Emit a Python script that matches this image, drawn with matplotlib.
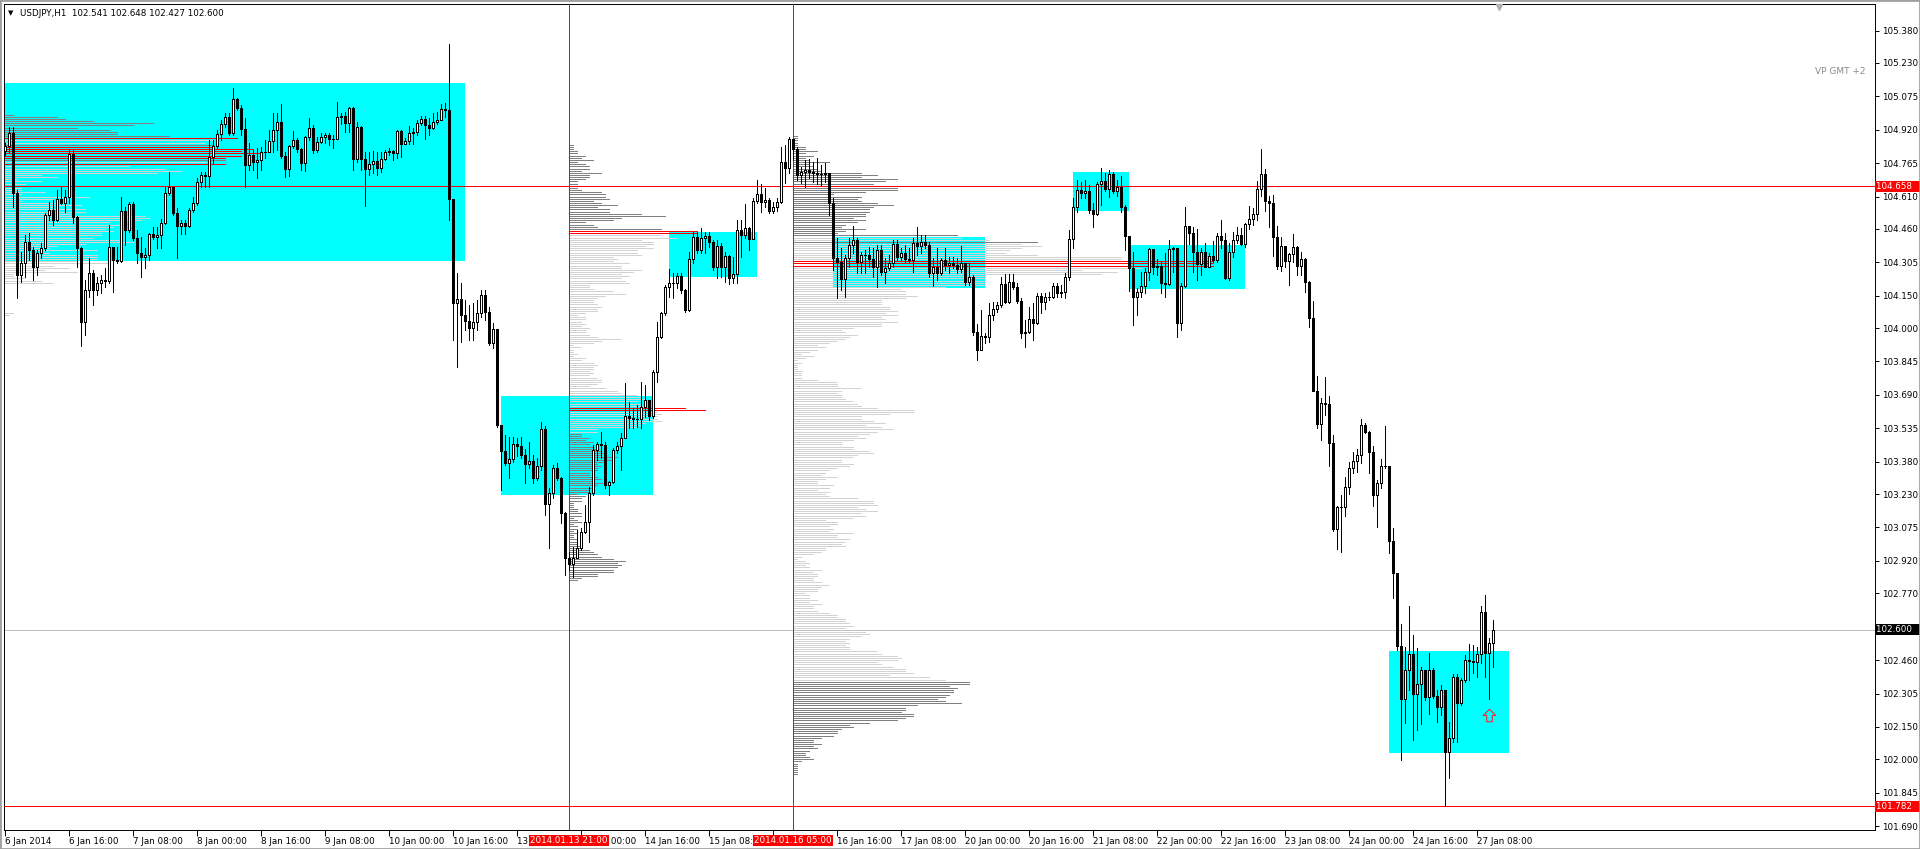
import matplotlib
matplotlib.use("Agg")
import matplotlib.pyplot as plt
import matplotlib.transforms as mtransforms
from matplotlib.path import Path
from matplotlib.patches import Rectangle

# USDJPY H1, one bar per hour, 6 Jan 2014 00:00 .. 27 Jan 2014 12:00 (GMT+2)
first_open = 104.822
closes = [
    104.845, 104.905, 104.627, 104.247, 104.302, 104.400, 104.363, 104.284, 104.349, 104.372,
    104.525, 104.548, 104.502, 104.599, 104.580, 104.609, 104.807, 104.516, 104.372, 104.029,
    104.177, 104.256, 104.177, 104.209, 104.223, 104.218, 104.377, 104.316, 104.311, 104.543,
    104.455, 104.575, 104.418, 104.349, 104.331, 104.340, 104.436, 104.423, 104.432, 104.488,
    104.627, 104.655, 104.534, 104.474, 104.488, 104.474, 104.548, 104.580, 104.678, 104.711,
    104.706, 104.794, 104.845, 104.900, 104.946, 104.980, 104.905, 105.063, 105.021, 104.923,
    104.757, 104.803, 104.771, 104.780, 104.817, 104.817, 104.868, 104.919, 104.956, 104.798,
    104.738, 104.845, 104.873, 104.831, 104.766, 104.887, 104.928, 104.826, 104.864, 104.887,
    104.896, 104.877, 104.877, 104.980, 104.984, 104.951, 105.021, 104.784, 104.933, 104.784,
    104.738, 104.761, 104.775, 104.743, 104.784, 104.817, 104.822, 104.812, 104.914, 104.854,
    104.868, 104.905, 104.910, 104.951, 104.970, 104.942, 104.928, 104.956, 104.965, 105.016,
    105.012, 104.599, 104.117, 104.135, 104.061, 104.033, 104.001, 104.029, 104.070, 104.154,
    104.075, 103.931, 103.996, 103.551, 103.430, 103.374, 103.393, 103.462, 103.453, 103.412,
    103.370, 103.384, 103.305, 103.361, 103.532, 103.184, 103.235, 103.351, 103.305, 103.143,
    102.934, 102.906, 102.934, 102.980, 103.055, 103.101, 103.235, 103.435, 103.462, 103.458,
    103.273, 103.287, 103.435, 103.453, 103.490, 103.592, 103.583, 103.578, 103.580, 103.634,
    103.667, 103.592, 103.796, 103.959, 104.070, 104.191, 104.209, 104.207, 104.242, 104.177,
    104.084, 104.321, 104.423, 104.363, 104.418, 104.427, 104.400, 104.284, 104.381, 104.284,
    104.335, 104.233, 104.251, 104.455, 104.432, 104.465, 104.414, 104.590, 104.622, 104.585,
    104.594, 104.543, 104.562, 104.585, 104.771, 104.743, 104.877, 104.831, 104.711, 104.724,
    104.734, 104.724, 104.720, 104.715, 104.713, 104.720, 104.580, 104.325, 104.307, 104.228,
    104.325, 104.386, 104.409, 104.307, 104.340, 104.338, 104.321, 104.284, 104.363, 104.260,
    104.279, 104.302, 104.390, 104.330, 104.349, 104.321, 104.316, 104.395, 104.381, 104.400,
    104.386, 104.256, 104.284, 104.256, 104.316, 104.293, 104.302, 104.293, 104.274, 104.302,
    104.214, 104.237, 103.982, 103.899, 103.964, 103.959, 104.061, 104.089, 104.108, 104.205,
    104.121, 104.214, 104.191, 104.126, 103.978, 103.982, 104.042, 104.024, 104.149, 104.121,
    104.145, 104.143, 104.195, 104.163, 104.168, 104.237, 104.413, 104.562, 104.641, 104.627,
    104.636, 104.548, 104.530, 104.669, 104.683, 104.645, 104.715, 104.636, 104.655, 104.562,
    104.427, 104.279, 104.145, 104.168, 104.195, 104.260, 104.367, 104.284, 104.288, 104.209,
    104.205, 104.367, 104.372, 104.024, 104.195, 104.474, 104.441, 104.353, 104.298, 104.353,
    104.284, 104.335, 104.316, 104.427, 104.409, 104.233, 104.353, 104.409, 104.432, 104.390,
    104.483, 104.506, 104.530, 104.645, 104.715, 104.590, 104.580, 104.423, 104.288, 104.381,
    104.311, 104.344, 104.377, 104.288, 104.321, 104.214, 104.047, 103.709, 103.556, 103.653,
    103.650, 103.467, 103.069, 103.170, 103.168, 103.263, 103.351, 103.384, 103.412, 103.551,
    103.518, 103.425, 103.226, 103.282, 103.361, 103.358, 103.013, 102.864, 102.526, 102.280,
    102.415, 102.489, 102.303, 102.350, 102.415, 102.289, 102.415, 102.294, 102.243, 102.322,
    102.034, 102.099, 102.382, 102.261, 102.368, 102.461, 102.456, 102.452, 102.489, 102.684,
    102.493, 102.541, 102.600,
]
highs = [
    104.859, 104.933, 104.933, 104.641, 104.353, 104.432, 104.441, 104.377, 104.363, 104.395,
    104.534, 104.585, 104.594, 104.641, 104.655, 104.641, 104.831, 104.826, 104.520, 104.377,
    104.223, 104.325, 104.270, 104.237, 104.247, 104.279, 104.479, 104.377, 104.377, 104.609,
    104.562, 104.585, 104.585, 104.455, 104.423, 104.372, 104.441, 104.469, 104.469, 104.506,
    104.655, 104.725, 104.655, 104.557, 104.502, 104.502, 104.557, 104.609, 104.697, 104.725,
    104.725, 104.873, 104.873, 104.919, 104.965, 104.998, 104.998, 105.114, 105.067, 105.035,
    104.975, 104.859, 104.826, 104.836, 104.840, 104.873, 104.919, 104.998, 104.998, 105.040,
    104.817, 104.850, 104.914, 104.882, 104.836, 104.891, 104.975, 104.942, 104.887, 104.905,
    104.905, 104.905, 104.896, 105.049, 104.998, 105.003, 105.026, 105.026, 104.956, 104.938,
    104.817, 104.817, 104.822, 104.817, 104.817, 104.826, 104.836, 104.826, 104.919, 104.919,
    104.882, 104.938, 104.928, 104.965, 104.984, 104.984, 104.975, 104.998, 105.003, 105.040,
    105.044, 105.318, 104.599, 104.256, 104.209, 104.131, 104.107, 104.117, 104.131, 104.177,
    104.177, 104.098, 104.024, 103.996, 103.551, 103.505, 103.495, 103.495, 103.490, 103.495,
    103.439, 103.472, 103.412, 103.398, 103.565, 103.546, 103.259, 103.365, 103.374, 103.310,
    103.147, 102.962, 102.985, 103.064, 103.073, 103.180, 103.263, 103.458, 103.472, 103.518,
    103.472, 103.291, 103.444, 103.472, 103.514, 103.746, 103.657, 103.630, 103.643, 103.750,
    103.736, 103.667, 103.806, 104.029, 104.075, 104.200, 104.274, 104.256, 104.256, 104.256,
    104.182, 104.353, 104.446, 104.446, 104.465, 104.446, 104.446, 104.409, 104.409, 104.395,
    104.353, 104.340, 104.330, 104.502, 104.502, 104.576, 104.469, 104.604, 104.687, 104.669,
    104.650, 104.604, 104.585, 104.604, 104.840, 104.850, 104.887, 104.877, 104.840, 104.747,
    104.780, 104.784, 104.771, 104.789, 104.757, 104.766, 104.720, 104.604, 104.418, 104.372,
    104.340, 104.418, 104.474, 104.418, 104.353, 104.363, 104.377, 104.372, 104.386, 104.386,
    104.325, 104.340, 104.409, 104.409, 104.372, 104.386, 104.372, 104.418, 104.469, 104.432,
    104.432, 104.400, 104.325, 104.372, 104.325, 104.372, 104.330, 104.330, 104.325, 104.381,
    104.302, 104.302, 104.247, 104.019, 104.084, 103.978, 104.117, 104.121, 104.121, 104.237,
    104.251, 104.251, 104.251, 104.209, 104.140, 104.038, 104.098, 104.117, 104.163, 104.163,
    104.163, 104.168, 104.209, 104.209, 104.200, 104.256, 104.455, 104.604, 104.687, 104.678,
    104.687, 104.664, 104.580, 104.678, 104.743, 104.720, 104.734, 104.725, 104.687, 104.706,
    104.571, 104.427, 104.353, 104.186, 104.260, 104.279, 104.372, 104.363, 104.321, 104.311,
    104.349, 104.409, 104.377, 104.372, 104.209, 104.562, 104.474, 104.469, 104.460, 104.372,
    104.395, 104.349, 104.404, 104.441, 104.502, 104.441, 104.395, 104.446, 104.469, 104.465,
    104.488, 104.567, 104.557, 104.683, 104.831, 104.738, 104.613, 104.618, 104.474, 104.423,
    104.381, 104.349, 104.437, 104.381, 104.353, 104.325, 104.219, 104.126, 103.778, 103.676,
    103.773, 103.685, 103.504, 103.175, 103.226, 103.310, 103.379, 103.426, 103.439, 103.579,
    103.560, 103.523, 103.453, 103.296, 103.393, 103.546, 103.361, 103.073, 102.864, 102.628,
    102.521, 102.711, 102.577, 102.517, 102.429, 102.410, 102.493, 102.424, 102.322, 102.345,
    102.211, 102.173, 102.396, 102.396, 102.378, 102.484, 102.535, 102.530, 102.521, 102.711,
    102.762, 102.563, 102.648,
]
lows = [
    104.803, 104.817, 104.562, 104.140, 104.214, 104.237, 104.316, 104.223, 104.247, 104.325,
    104.363, 104.502, 104.479, 104.497, 104.576, 104.539, 104.580, 104.488, 104.284, 103.917,
    103.968, 104.145, 104.107, 104.154, 104.163, 104.191, 104.209, 104.168, 104.302, 104.307,
    104.386, 104.446, 104.409, 104.302, 104.237, 104.279, 104.316, 104.413, 104.372, 104.372,
    104.483, 104.617, 104.525, 104.325, 104.437, 104.437, 104.469, 104.539, 104.571, 104.655,
    104.655, 104.655, 104.766, 104.836, 104.873, 104.933, 104.896, 104.896, 105.012, 104.896,
    104.655, 104.734, 104.734, 104.697, 104.734, 104.789, 104.817, 104.817, 104.826, 104.789,
    104.701, 104.706, 104.836, 104.817, 104.734, 104.729, 104.873, 104.812, 104.817, 104.859,
    104.859, 104.850, 104.836, 104.877, 104.947, 104.910, 104.910, 104.734, 104.771, 104.734,
    104.567, 104.711, 104.720, 104.711, 104.725, 104.780, 104.803, 104.780, 104.789, 104.794,
    104.854, 104.854, 104.854, 104.896, 104.942, 104.877, 104.896, 104.923, 104.947, 104.965,
    104.980, 104.502, 103.945, 103.820, 103.936, 103.992, 103.945, 103.945, 103.992, 104.052,
    104.038, 103.922, 103.908, 103.542, 103.249, 103.365, 103.305, 103.379, 103.407, 103.398,
    103.282, 103.351, 103.282, 103.296, 103.342, 103.133, 102.980, 103.212, 103.296, 103.096,
    102.855, 102.878, 102.846, 102.934, 102.971, 103.050, 103.008, 103.226, 103.388, 103.398,
    103.259, 103.226, 103.282, 103.421, 103.342, 103.490, 103.537, 103.537, 103.542, 103.537,
    103.588, 103.574, 103.583, 103.750, 103.955, 104.061, 104.145, 104.140, 104.186, 104.163,
    104.075, 104.080, 104.302, 104.349, 104.349, 104.349, 104.377, 104.270, 104.233, 104.237,
    104.214, 104.205, 104.209, 104.209, 104.330, 104.418, 104.363, 104.413, 104.580, 104.539,
    104.562, 104.534, 104.534, 104.543, 104.580, 104.673, 104.720, 104.780, 104.687, 104.673,
    104.655, 104.697, 104.678, 104.669, 104.664, 104.678, 104.525, 104.270, 104.140, 104.177,
    104.145, 104.284, 104.349, 104.256, 104.256, 104.256, 104.284, 104.237, 104.191, 104.247,
    104.209, 104.270, 104.284, 104.316, 104.316, 104.307, 104.307, 104.260, 104.340, 104.349,
    104.372, 104.237, 104.195, 104.223, 104.247, 104.270, 104.256, 104.279, 104.256, 104.260,
    104.200, 104.200, 103.968, 103.852, 103.899, 103.931, 103.936, 104.038, 104.075, 104.098,
    104.117, 104.117, 104.182, 104.117, 103.955, 103.913, 103.978, 103.945, 104.019, 104.070,
    104.089, 104.131, 104.140, 104.145, 104.145, 104.140, 104.223, 104.372, 104.539, 104.604,
    104.604, 104.534, 104.469, 104.525, 104.571, 104.636, 104.609, 104.627, 104.613, 104.539,
    104.363, 104.172, 104.015, 104.061, 104.145, 104.163, 104.223, 104.251, 104.247, 104.163,
    104.145, 104.200, 104.260, 103.959, 103.992, 104.191, 104.390, 104.260, 104.223, 104.247,
    104.284, 104.284, 104.307, 104.307, 104.372, 104.228, 104.223, 104.330, 104.395, 104.386,
    104.377, 104.460, 104.479, 104.502, 104.613, 104.543, 104.469, 104.335, 104.274, 104.265,
    104.284, 104.200, 104.307, 104.247, 104.247, 104.168, 104.006, 103.709, 103.537, 103.481,
    103.597, 103.360, 103.059, 102.976, 102.962, 103.129, 103.231, 103.328, 103.333, 103.374,
    103.514, 103.328, 103.175, 103.078, 103.259, 103.351, 102.957, 102.749, 102.507, 101.997,
    102.169, 102.322, 102.090, 102.136, 102.164, 102.275, 102.211, 102.285, 102.173, 102.206,
    101.782, 101.914, 102.081, 102.081, 102.252, 102.359, 102.368, 102.401, 102.382, 102.447,
    102.382, 102.280, 102.427,
]
# H1 bars have no gaps: each bar opens at the previous close
opens = [first_open] + closes[:-1]

tick_bars = [0, 16, 32, 48, 64, 80, 96, 112, 128, 144, 160, 176, 192, 208, 224,
             240, 256, 272, 288, 304, 320, 336, 352, 368]
tick_labels = ["6 Jan 2014", "6 Jan 16:00", "7 Jan 08:00", "8 Jan 00:00", "8 Jan 16:00",
               "9 Jan 08:00", "10 Jan 00:00", "10 Jan 16:00", "13 Jan 08:00", "14 Jan 00:00",
               "14 Jan 16:00", "15 Jan 08:00", "16 Jan 00:00", "16 Jan 16:00", "17 Jan 08:00",
               "20 Jan 00:00", "20 Jan 16:00", "21 Jan 08:00", "22 Jan 00:00", "22 Jan 16:00",
               "23 Jan 08:00", "24 Jan 00:00", "24 Jan 16:00", "27 Jan 08:00"]
price_ticks = [105.380, 105.230, 105.075, 104.920, 104.765, 104.610, 104.460, 104.305,
               104.150, 104.000, 103.845, 103.690, 103.535, 103.380, 103.230, 103.075,
               102.920, 102.770, 102.460, 102.305, 102.150, 102.000, 101.845, 101.690]

# zones (cyan rectangles): start bar, end bar, top price, bottom price
zone_start = [0, 124, 166, 207, 267, 281, 346]
zone_end = [115, 162, 188, 245, 281, 310, 376]
zone_top = [105.136, 103.685, 104.445, 104.421, 104.726, 104.386, 102.504]
zone_bottom = [104.311, 103.226, 104.239, 104.185, 104.545, 104.182, 102.028]

# levels
level_red = [104.658, 101.782]
last_price = 102.600
vline_bars = [141, 197]
vline_labels = ["2014.01.13 21:00", "2014.01.16 05:00"]

# volume profiles: anchor bar, top price, one row per pip downwards (length in bars)
prof_a_bar = 0
prof_a_top = 104.99
prof_a_len = [2, 13, 15, 22, 37, 32, 18, 26, 28, 28,
              41, 58, 52, 50, 52, 52, 62, 59, 64, 59,
              55, 55, 50, 55, 31, 40, 44, 38, 9, 13,
              3, 9, 5, 10, 4, 4, 10, 4, 21, 12,
              4, 15, 19, 12, 20, 20, 17, 35, 36, 34,
              26, 29, 27, 25, 27, 24, 24, 22, 29, 32,
              20, 13, 11, 23, 11, 23, 23, 23, 18, 26,
              12, 16, 10, 18, 2, 2, 5, 9, 12, 0,
              0, 0, 0, 0, 0, 0, 0, 0, 0, 0,
              0, 0, 2, 1]
prof_a_col = "d" * 11 + "r" + "ll" + "d" + "r" * 6 + "d" + "l" + "r" + "l" * 70

prof_b_bar = 141
prof_b_top = 104.85
prof_b_len = [1, 1, 1, 2, 2, 4, 3, 6, 2, 4,
              5, 5, 3, 8, 5, 5, 4, 2, 2, 2,
              2, 3, 8, 9, 9, 10, 6, 8, 12, 7,
              10, 10, 18, 24, 13, 11, 4, 6, 7, 23,
              32, 32, 23, 27, 18, 21, 21, 19, 21, 17,
              17, 18, 11, 12, 11, 15, 13, 13, 18, 16,
              13, 15, 13, 14, 15, 5, 5, 6, 11, 14,
              9, 7, 6, 6, 7, 8, 7, 7, 4, 2,
              4, 4, 3, 4, 3, 5, 4, 4, 5, 7,
              13, 8, 6, 1, 3, 1, 1, 2, 1, 4,
              3, 6, 7, 6, 6, 5, 6, 5, 7, 8,
              8, 7, 5, 9, 12, 13, 17, 18, 19, 17,
              18, 19, 29, 34, 22, 23, 22, 22, 23, 19,
              18, 17, 7, 7, 3, 3, 5, 4, 6, 5,
              6, 7, 8, 9, 8, 12, 11, 9, 7, 8,
              7, 7, 5, 5, 7, 8, 6, 9, 7, 6,
              5, 5, 2, 4, 3, 3, 1, 1, 1, 2,
              2, 3, 3, 1, 2, 3, 1, 2, 2, 1,
              2, 1, 1, 2, 2, 2, 3, 3, 5, 6,
              7, 8, 11, 14, 12, 13, 12, 11, 11, 7,
              7, 3, 2]
prof_b_col = "d" * 40 + "rr" + "l" * 80 + "rr" + "l" * 10 + "d" * 69

prof_c_bar = 197
prof_c_top = 104.89
prof_c_len = [1, 1, 1, 1, 1, 3, 3, 6, 3, 5,
              3, 4, 9, 4, 5, 6, 7, 17, 21, 17,
              26, 23, 20, 26, 26, 26, 18, 10, 17, 16,
              17, 21, 25, 20, 19, 19, 18, 18, 15, 18,
              16, 13, 12, 18, 13, 11, 41, 42, 49, 61,
              57, 62, 57, 54, 53, 61, 82, 82, 105, 105,
              105, 87, 72, 81, 77, 48, 48, 48, 48, 48,
              38, 27, 28, 28, 31, 28, 22, 22, 22, 24,
              24, 26, 23, 26, 22, 23, 26, 22, 22, 15,
              12, 13, 16, 14, 13, 11, 9, 6, 8, 6,
              4, 2, 5, 3, 1, 2, 1, 1, 1, 2,
              2, 2, 2, 6, 11, 11, 11, 17, 12, 11,
              12, 12, 13, 15, 16, 17, 21, 30, 30, 24,
              17, 17, 20, 23, 18, 22, 25, 21, 19, 16,
              18, 15, 12, 12, 15, 15, 19, 20, 16, 15,
              12, 12, 15, 14, 11, 9, 8, 7, 11, 8,
              6, 6, 10, 9, 6, 9, 8, 9, 16, 20,
              20, 21, 16, 18, 21, 17, 18, 15, 8, 11,
              11, 9, 10, 9, 15, 11, 11, 14, 13, 12,
              13, 8, 8, 7, 5, 2, 1, 3, 4, 3,
              4, 7, 5, 6, 6, 5, 5, 7, 9, 7,
              6, 6, 3, 4, 4, 6, 4, 7, 5, 5,
              6, 9, 11, 11, 13, 13, 14, 15, 13, 13,
              18, 19, 17, 14, 13, 14, 13, 14, 14, 21,
              22, 26, 27, 26, 21, 22, 25, 28, 28, 30,
              24, 34, 38, 44, 44, 39, 41, 40, 40, 39,
              38, 36, 38, 42, 31, 28, 28, 27, 30, 30,
              28, 26, 19, 14, 15, 12, 11, 11, 10, 7,
              5, 5, 7, 5, 6, 4, 3, 3, 4, 5,
              2, 1, 1, 1, 1, 1, 1]
prof_c_col = "d" * 47 + "ll" + "d" + "l" * 8 + "rrr" + "l" * 192 + "d" * 44

signal_bar = 371
signal_price = 102.206

LW = 0.7  # one screen pixel

W, H = 1920, 849
fig = plt.figure(figsize=(W / 100, H / 100), dpi=100)
fig.patch.set_facecolor("white")
ax = fig.add_axes([4 / W, (H - 830) / H, 1871 / W, 826 / H])
ax.set_xlim(-0.25, 467.5)
ax.set_ylim(101.672, 105.503)

# zones
for s, e, t, b in zip(zone_start, zone_end, zone_top, zone_bottom):
    ax.add_patch(Rectangle((s, b), e - s, t - b, facecolor="#00ffff", edgecolor="none", zorder=1))

# profiles
colmap = {"d": "#808080", "l": "#d3d3d3", "r": "#ff0000"}
for bar, top, lens, cols in [(prof_a_bar, prof_a_top, prof_a_len, prof_a_col),
                             (prof_b_bar, prof_b_top, prof_b_len, prof_b_col),
                             (prof_c_bar, prof_c_top, prof_c_len, prof_c_col)]:
    for k, (ln, c) in enumerate(zip(lens, cols)):
        if ln <= 0:
            continue
        p = top - 0.01 * k
        ax.hlines(p, bar, bar + ln, color=colmap[c], lw=LW, antialiased=False,
                  zorder=3 if c == "r" else 2)

# levels
for lv in level_red:
    ax.axhline(lv, color="red", lw=LW, antialiased=False, zorder=3)
ax.axhline(last_price, color="#c0c0c0", lw=LW, antialiased=False, zorder=2.5)
for vb in vline_bars:
    ax.axvline(vb, color="red", lw=LW, antialiased=False, zorder=3)

# candles
xs = list(range(len(closes)))
ax.vlines(xs, lows, highs, color="black", lw=LW, antialiased=False, zorder=4)
for i in xs:
    o, c = opens[i], closes[i]
    fc = "white" if c >= o else "black"
    ax.add_patch(Rectangle((i - 0.35, min(o, c)), 0.7, max(abs(c - o), 0.0005),
                           facecolor=fc, edgecolor="black", lw=LW, antialiased=False, zorder=5))

# signal arrow
arrow = Path([(0, 1), (-1, 0), (-0.45, 0), (-0.45, -1), (0.45, -1), (0.45, 0), (1, 0), (0, 1)])
ax.plot([signal_bar], [signal_price], marker=arrow, markersize=9, mfc="none", mec="#e03030",
        mew=0.8, ls="none", zorder=6)

# axes styling
for sp in ax.spines.values():
    sp.set_linewidth(LW)
    sp.set_color("black")
ax.yaxis.tick_right()
ax.set_yticks(price_ticks)
ax.set_yticklabels(["%.3f" % v for v in price_ticks])
ax.set_xticks(tick_bars)
ax.set_xticklabels(tick_labels)
ax.tick_params(axis="y", direction="out", length=3, width=LW, pad=2, labelsize=6.3)
ax.tick_params(axis="x", direction="out", length=4, width=LW, pad=1, labelsize=6.3)
for t in ax.get_xticklabels():
    t.set_ha("left")

ty = mtransforms.blended_transform_factory(ax.transAxes, ax.transData)
for lv in level_red:
    ax.text(1.0008, lv, "%.3f   " % lv, transform=ty, ha="left", va="center", fontsize=6.3,
            color="white", clip_on=False, zorder=10,
            bbox=dict(boxstyle="square,pad=0.12", fc="red", ec="none"))
ax.text(1.0008, last_price, "%.3f   " % last_price, transform=ty, ha="left", va="center",
        fontsize=6.3, color="white", clip_on=False, zorder=10,
        bbox=dict(boxstyle="square,pad=0.12", fc="black", ec="none"))

tx = mtransforms.blended_transform_factory(ax.transData, ax.transAxes)
for vb, lab in zip(vline_bars, vline_labels):
    ax.text(vb, -0.0125, lab, transform=tx, ha="center", va="center", fontsize=6.3,
            color="white", clip_on=False, zorder=10,
            bbox=dict(boxstyle="square,pad=0.15", fc="red", ec="none"))

# chart shift marker
ax.plot([373.5], [0.996], marker="v", markersize=5, color="#b0b0b0", transform=tx,
        clip_on=False, zorder=6)

ax.text(0.9947, 0.9177, "VP GMT +2", transform=ax.transAxes, ha="right", va="center",
        fontsize=6.5, color="#8a8a8a")
fig.text(8 / W, 1 - 13 / H, "\u25bc", fontsize=5, va="center", ha="left", color="black")
fig.text(20 / W, 1 - 13 / H, "USDJPY,H1  102.541 102.648 102.427 102.600", fontsize=6.3,
         va="center", ha="left", color="black")

# window frame
fig.add_artist(Rectangle((0, 0), 1, 1, transform=fig.transFigure, fill=False,
                         edgecolor="#a0a0a0", lw=2))

fig.savefig("out.png", dpi=100)
